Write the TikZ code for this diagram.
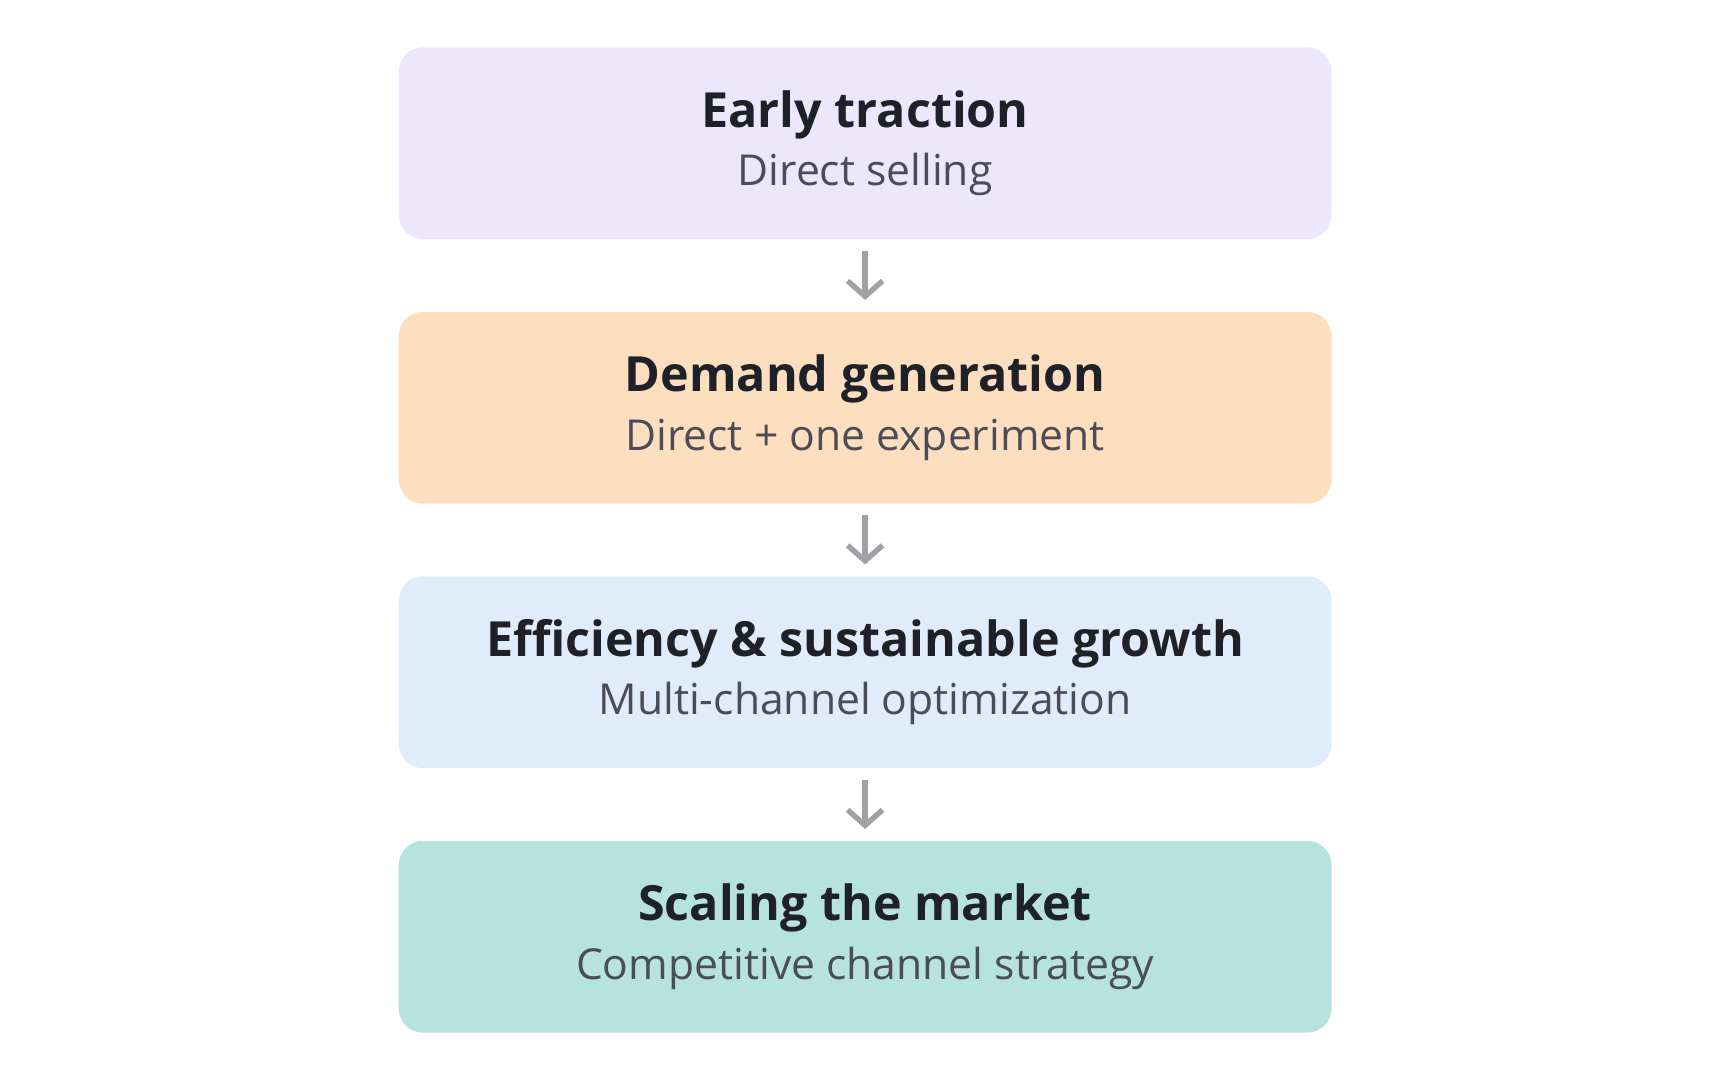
\documentclass[tikz,border=0pt]{standalone}
\usepackage{fontspec}
\setmainfont{Open Sans}
\usetikzlibrary{arrows.meta}
\definecolor{stageA}{HTML}{EDE7FE}
\definecolor{stageB}{HTML}{FDDFC0}
\definecolor{stageC}{HTML}{E0ECFC}
\definecolor{stageD}{HTML}{B6E2E0}
\definecolor{titlecol}{HTML}{1F2128}
\definecolor{subcol}{HTML}{4A4D57}
\definecolor{arrowcol}{HTML}{A0A0A5}
\newcommand{\stagetext}[2]{{\bfseries\fontsize{12.5}{15}\selectfont\color{titlecol}#1}\\[3pt]{\fontsize{11}{14}\selectfont\color{subcol}#2}}
\begin{document}
\begin{tikzpicture}[x=0.01cm,y=-0.01cm,
  stagebox/.style={rounded corners=0.22cm,minimum width=8.46cm,minimum height=1.74cm,align=center,inner sep=0pt},
  flow/.style={draw=arrowcol,line width=1.4pt,-{Straight Barb[length=4pt,width=9pt]}}]
\useasboundingbox (0,0) rectangle (1568,980);
\node[stagebox,fill=stageA] (early) at (785,130) {\stagetext{Early traction}{Direct selling}}; % stage 1
\node[stagebox,fill=stageB] (demand) at (785,370) {\stagetext{Demand generation}{Direct + one experiment}}; % stage 2
\node[stagebox,fill=stageC] (effic) at (785,610) {\stagetext{Efficiency \& sustainable growth}{Multi-channel optimization}}; % stage 3
\node[stagebox,fill=stageD] (scale) at (785,850) {\stagetext{Scaling the market}{Competitive channel strategy}}; % stage 4
\draw[flow] ([yshift=-0.1cm]early.south) -- ([yshift=0.1cm]demand.north); % arrow
\draw[flow] ([yshift=-0.1cm]demand.south) -- ([yshift=0.1cm]effic.north); % arrow
\draw[flow] ([yshift=-0.1cm]effic.south) -- ([yshift=0.1cm]scale.north); % arrow
\end{tikzpicture}
\end{document}
